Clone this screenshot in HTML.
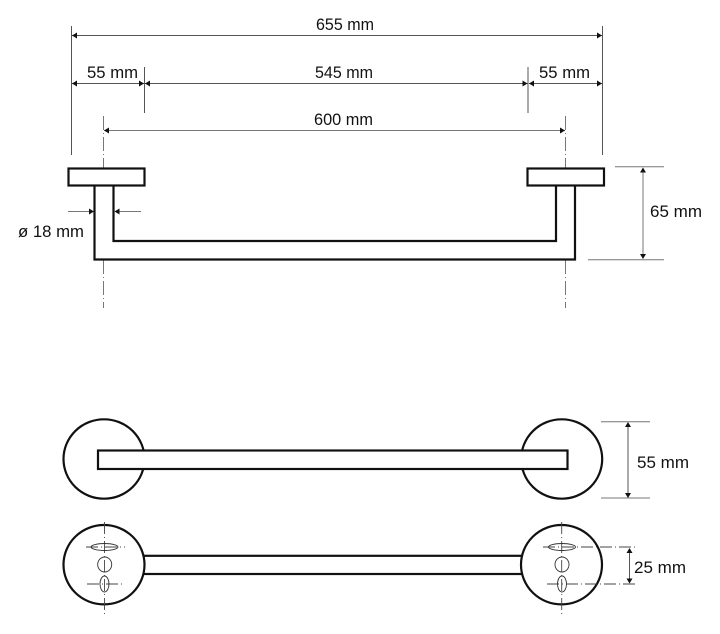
<!DOCTYPE html>
<html><head><meta charset="utf-8"><style>
html,body{margin:0;padding:0;background:#fff}
svg{display:block}
text{font-family:"Liberation Sans",sans-serif;font-size:16.5px;fill:#111}
.d{stroke:#555;stroke-width:1;fill:none}
.g{stroke:#777;stroke-width:1;fill:none}
.c{stroke:#777;stroke-width:1;fill:none;stroke-dasharray:14 3 1 3}
.c2{stroke:#444;stroke-width:.9;fill:none;stroke-dasharray:12 3 1 3}
.k{stroke:#111;stroke-width:2.2;fill:#fff}
.t{stroke:#333;stroke-width:.9;fill:none}
.a{fill:#111;stroke:none}
</style></head><body>
<svg width="720" height="634" viewBox="0 0 720 634" xmlns="http://www.w3.org/2000/svg">
<rect width="720" height="634" fill="#fff"/>

<!-- extension lines -->
<path class="d" d="M71.500 26V155M602.500 26V155M144.500 67V113M528 67V113"/>
<!-- dims -->
<path class="d" d="M72 35.500H602M72 83.500H144M145 83.500H527.500M529 83.500H602"/>
<path class="g" d="M104 130.500H565"/>
<path class="c" d="M103.500 116V168M103.500 260V308M565.500 116V168M565.500 260V308"/>
<!-- arrows horizontal -->
<path class="a" d="M72 35.500l5-3v6zM602 35.500l-5-3v6zM72 83.500l5-3v6zM144 83.500l-5-3v6zM145 83.500l5-3v6zM527.500 83.500l-5-3v6zM529 83.500l5-3v6zM602 83.500l-5-3v6zM104 130.500l5-3v6zM565 130.500l-5-3v6z"/>

<!-- side view -->
<path d="M94.500 185V259.500H575V185H556V241H113.500V185" fill="#fff" stroke="#111" stroke-width="2.200"/>
<rect class="k" x="68.500" y="168.500" width="76" height="17"/>
<rect class="k" x="527.500" y="168.500" width="76.500" height="17"/>

<!-- dia 18 -->
<path class="g" d="M68 211.500H93M115 211.500H141"/>
<path class="a" d="M94 211.500l-5-3v6zM114.500 211.500l5-3v6z"/>

<!-- 65 -->
<path class="g" d="M615 166.800H664M588 259.800H664M643 168V258"/>
<path class="a" d="M643 167.500l-3 5h6zM643 259l-3-5h6z"/>

<!-- top view -->
<ellipse class="k" cx="104" cy="459" rx="40.500" ry="39.700"/>
<ellipse class="k" cx="561.700" cy="459" rx="40.500" ry="39.700"/>
<rect class="k" x="98" y="450.500" width="469.500" height="18.500"/>
<path class="g" d="M601 421.700H650M601 498H650"/>
<path class="d" d="M628 423V497"/>
<path class="a" d="M628 422l-3 5h6zM628 498l-3-5h6z"/>

<!-- bottom view -->
<rect class="k" x="140" y="555.800" width="385" height="18.200"/>
<ellipse class="k" cx="104" cy="564.700" rx="40.500" ry="39.700"/>
<ellipse class="k" cx="561.500" cy="564.700" rx="40.500" ry="39.700"/>

<path class="c2" d="M104.500 522V615M86 547H125M87 584H125"/>
<path class="c2" d="M561.700 522V615M543 547H638M547 584H638"/>
<ellipse class="t" cx="104.500" cy="547" rx="13.500" ry="3.500"/>
<ellipse class="t" cx="104.700" cy="564.500" rx="7" ry="7.500"/>
<ellipse class="t" cx="104.500" cy="584" rx="4.500" ry="8"/>
<ellipse class="t" cx="562" cy="547" rx="13.500" ry="3.500"/>
<ellipse class="t" cx="562" cy="564.500" rx="7" ry="7.500"/>
<ellipse class="t" cx="562" cy="584" rx="4.500" ry="8"/>
<path class="d" d="M629.500 549V582"/>
<path class="a" d="M629.500 548l-3 5h6zM629.500 583.500l-3-5h6z"/>

<!-- labels -->
<text x="316" y="30" textLength="58" lengthAdjust="spacingAndGlyphs">655 mm</text>
<text x="87" y="78" textLength="51" lengthAdjust="spacingAndGlyphs">55 mm</text>
<text x="315" y="78" textLength="58" lengthAdjust="spacingAndGlyphs">545 mm</text>
<text x="539" y="78" textLength="51" lengthAdjust="spacingAndGlyphs">55 mm</text>
<text x="314" y="125" textLength="59" lengthAdjust="spacingAndGlyphs">600 mm</text>
<text x="18" y="237" textLength="66" lengthAdjust="spacingAndGlyphs">ø 18 mm</text>
<text x="650" y="217" textLength="52" lengthAdjust="spacingAndGlyphs">65 mm</text>
<text x="637" y="468" textLength="52" lengthAdjust="spacingAndGlyphs">55 mm</text>
<text x="634" y="573" textLength="52" lengthAdjust="spacingAndGlyphs">25 mm</text>
</svg>
</body></html>
